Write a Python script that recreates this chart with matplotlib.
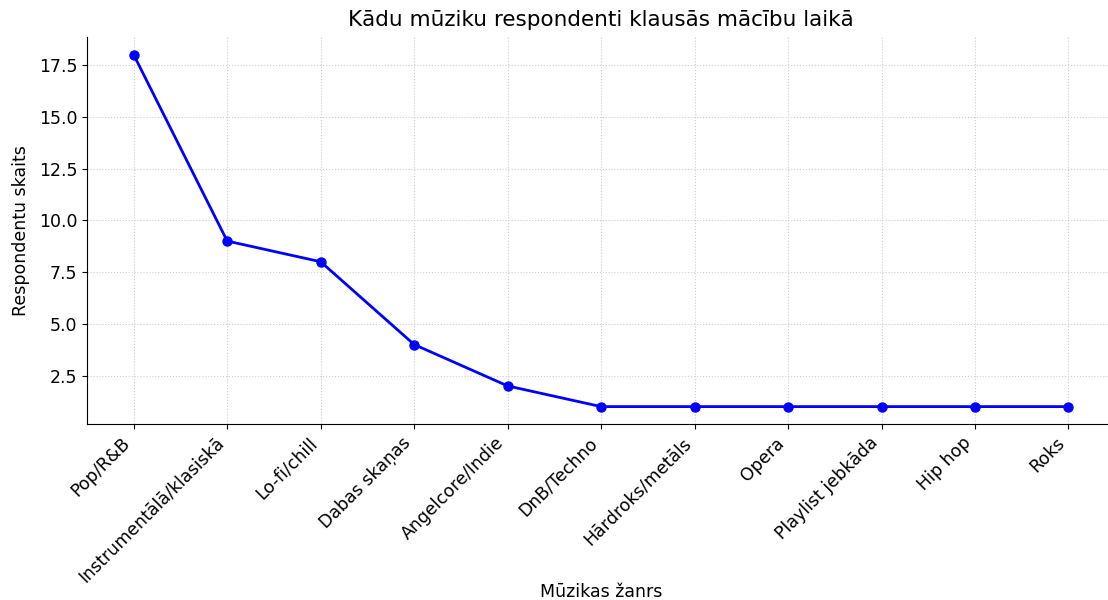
import matplotlib.pyplot as plt

genres = ['Pop/R&B', 'Instrumentālā/klasiskā', 'Lo-fi/chill', 'Dabas skaņas',
          'Angelcore/Indie', 'DnB/Techno', 'Hārdroks/metāls', 'Opera',
          'Playlist jebkāda', 'Hip hop', 'Roks']
counts = [18, 9, 8, 4, 2, 1, 1, 1, 1, 1, 1]

plt.rcParams.update({'font.size': 12.5})

fig = plt.figure(figsize=(11.08, 6), dpi=100)
ax = fig.add_axes([0.0785, 0.293, 0.928, 0.645])

ax.plot(genres, counts, marker='o', color='blue', linewidth=2, markersize=6.5)

ax.set_title('Kādu mūziku respondenti klausās mācību laikā', fontsize=15.5, pad=8)
ax.set_xlabel('Mūzikas žanrs', va='center')
ax.xaxis.set_label_coords(0.5, -0.434)
ax.set_ylabel('Respondentu skaits', labelpad=6)
ax.set_yticks([2.5, 5.0, 7.5, 10.0, 12.5, 15.0, 17.5])
plt.setp(ax.get_xticklabels(), rotation=45, ha='right')
ax.grid(True, linestyle=':', color='#cccccc')
ax.spines['top'].set_visible(False)
ax.spines['right'].set_visible(False)

fig.savefig('out.png', dpi=100)
